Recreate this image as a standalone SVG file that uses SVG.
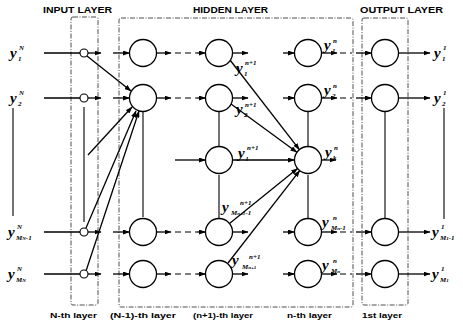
<svg xmlns="http://www.w3.org/2000/svg" width="463" height="325" viewBox="0 0 463 325">
<defs>
<marker id="ah" markerWidth="7" markerHeight="5" refX="6.5" refY="2.5" orient="auto" markerUnits="userSpaceOnUse">
<path d="M0,0 L7,2.5 L0,5 Z" fill="#000"/>
</marker>
<style>
.box{fill:none;stroke:#222;stroke-width:0.8;stroke-dasharray:5 1.5 1 1.5}
.n{fill:#fff;stroke:#000;stroke-width:1.3}
.ni{fill:#fff;stroke:#000;stroke-width:1.1}
.c{stroke:#000;stroke-width:1.3;fill:none}
.a{stroke:#000;stroke-width:1.3;fill:none;marker-end:url(#ah)}
.d{stroke:#000;stroke-width:1.2;fill:none;stroke-dasharray:6 4}
.v{stroke:#000;stroke-width:1.1;fill:none}
.h{font-family:"Liberation Sans",Arial,sans-serif;font-weight:bold;font-size:9px;fill:#000}
.b{font-family:"Liberation Sans",Arial,sans-serif;font-weight:bold;font-size:7px;fill:#000}
.y{font-family:"Liberation Serif","Times New Roman",serif;font-weight:bold;font-style:italic;font-size:15px;fill:#000}
.s{font-family:"Liberation Serif","Times New Roman",serif;font-weight:bold;font-style:italic;font-size:7px;fill:#000}
</style>
</defs>
<rect width="463" height="325" fill="#fff"/>

<g id="layer-boxes">
<rect class="box" x="71" y="17" width="27" height="288" rx="2"/>
<rect class="box" x="119" y="18" width="234" height="289" rx="2"/>
<rect class="box" x="362" y="18" width="46" height="287" rx="2"/>
</g>

<g id="headings">
<text class="h" x="43" y="13" textLength="69" lengthAdjust="spacingAndGlyphs">INPUT LAYER</text>
<text class="h" x="193" y="13" textLength="75" lengthAdjust="spacingAndGlyphs">HIDDEN LAYER</text>
<text class="h" x="360" y="13" textLength="83" lengthAdjust="spacingAndGlyphs">OUTPUT LAYER</text>
<text class="b" x="50" y="318" textLength="47" lengthAdjust="spacingAndGlyphs">N-th layer</text>
<text class="b" x="110" y="318" textLength="66" lengthAdjust="spacingAndGlyphs">(N-1)-th layer</text>
<text class="b" x="193" y="318" textLength="60" lengthAdjust="spacingAndGlyphs">(n+1)-th layer</text>
<text class="b" x="287" y="318" textLength="45" lengthAdjust="spacingAndGlyphs">n-th layer</text>
<text class="b" x="362" y="318" textLength="40" lengthAdjust="spacingAndGlyphs">1st layer</text>
</g>

<g id="connectors">
<g id="row-lines">
<path class="c" d="M44,53 H80 M44,98 H80 M44,232 H80 M44,274 H80"/>
<path class="a" d="M88,53 H101"/><path class="a" d="M88,98 H101"/><path class="a" d="M88,232 H101"/><path class="a" d="M88,274 H101"/>
<path class="a" d="M113,53 H129.5"/><path class="a" d="M113,98 H129.5"/><path class="a" d="M113,232 H129.5"/><path class="a" d="M113,274 H129.5"/>
<path class="a" d="M156.5,53 H171"/><path class="a" d="M156.5,98 H171"/><path class="a" d="M156.5,232 H171"/><path class="a" d="M156.5,274 H171"/>
<path class="d" d="M175,53 H197 M175,98 H197 M175,232 H197 M175,274 H197"/>
<path class="a" d="M197,53 H205.5"/><path class="a" d="M197,98 H205.5"/><path class="a" d="M197,232 H205.5"/><path class="a" d="M197,274 H205.5"/>
<path class="a" d="M232.5,53 H248"/><path class="a" d="M232.5,98 H248"/><path class="a" d="M232.5,232 H248"/><path class="a" d="M232.5,274 H248"/>
<path class="a" d="M283,53 H294.5"/><path class="a" d="M283,98 H294.5"/><path class="a" d="M283,232 H294.5"/><path class="a" d="M283,274 H294.5"/>
<path class="a" d="M321.5,53 H337"/><path class="a" d="M321.5,98 H337"/><path class="a" d="M321.5,232 H337"/><path class="a" d="M321.5,274 H337"/>
<path class="d" d="M340,53 H352 M340,98 H352 M340,232 H352 M340,274 H352"/>
<path class="a" d="M356,53 H371.5"/><path class="a" d="M356,98 H371.5"/><path class="a" d="M356,232 H371.5"/><path class="a" d="M356,274 H371.5"/>
<path class="a" d="M398.5,53 H430"/><path class="a" d="M398.5,98 H430"/><path class="a" d="M398.5,232 H430"/><path class="a" d="M398.5,274 H430"/>
</g>
<g id="mid-row">
<path class="a" d="M175,160 H205.5"/>
<path class="a" d="M232.5,160 H294.5"/>
<path class="a" d="M321.5,160 H336"/>
</g>
<g id="converge-input">
<path class="a" d="M87,56 L131,91"/>
<path class="a" d="M88,155 L132,107"/>
<path class="a" d="M86,228 L136,111"/>
<path class="a" d="M86,271 L139,111"/>
</g>
<g id="converge-hidden">
<path class="a" d="M230,60 L299.4,149.6"/>
<path class="a" d="M231,104 L296.9,152.3"/>
<path class="a" d="M229.5,223.5 L297.5,168.5"/>
<path class="a" d="M228,263 L299.7,170.6"/>
</g>
<g id="ellipsis-lines">
<path class="v" d="M13,108 V216"/>
<path class="v" d="M84,107 V222"/>
<path class="v" d="M143,112 V217"/>
<path class="v" d="M219,112 V146 M219,175 V218"/>
<path class="v" d="M308,112 V146 M308,175 V218"/>
<path class="v" d="M385,112 V218"/>
<path class="v" d="M444,108 V219"/>
</g>
</g>

<g id="input-nodes">
<circle class="ni" cx="84" cy="53" r="4"/>
<circle class="ni" cx="84" cy="98" r="4"/>
<circle class="ni" cx="84" cy="232" r="4"/>
<circle class="ni" cx="84" cy="274" r="4"/>
</g>
<g id="hidden-N1">
<circle class="n" cx="143" cy="53" r="13.5"/>
<circle class="n" cx="143" cy="98" r="13.5"/>
<circle class="n" cx="143" cy="232" r="13.5"/>
<circle class="n" cx="143" cy="274" r="13.5"/>
</g>
<g id="hidden-n1">
<circle class="n" cx="219" cy="53" r="13.5"/>
<circle class="n" cx="219" cy="98" r="13.5"/>
<circle class="n" cx="219" cy="160" r="13.5"/>
<circle class="n" cx="219" cy="232" r="13.5"/>
<circle class="n" cx="219" cy="274" r="13.5"/>
</g>
<g id="hidden-n">
<circle class="n" cx="308" cy="53" r="13.5"/>
<circle class="n" cx="308" cy="98" r="13.5"/>
<circle class="n" cx="308" cy="160" r="13.5"/>
<circle class="n" cx="308" cy="232" r="13.5"/>
<circle class="n" cx="308" cy="274" r="13.5"/>
</g>
<g id="output-nodes">
<circle class="n" cx="385" cy="53" r="13.5"/>
<circle class="n" cx="385" cy="98" r="13.5"/>
<circle class="n" cx="385" cy="232" r="13.5"/>
<circle class="n" cx="385" cy="274" r="13.5"/>
</g>

<g id="input-labels">
<text class="y" x="10" y="58">y</text><text class="s" x="19" y="50">N</text><text class="s" x="18" y="61">1</text>
<text class="y" x="10" y="103">y</text><text class="s" x="19" y="95">N</text><text class="s" x="18" y="106">2</text>
<text class="y" x="8" y="237">y</text><text class="s" x="17" y="229">N</text><text class="s" x="16" y="240">M<tspan font-size="5">N</tspan>-1</text>
<text class="y" x="8" y="279">y</text><text class="s" x="17" y="271">N</text><text class="s" x="16" y="282">M<tspan font-size="5">N</tspan></text>
</g>
<g id="n1-labels">
<text class="y" x="236" y="73">y</text><text class="s" x="245" y="65">n+1</text><text class="s" x="244" y="76">1</text>
<text class="y" x="236" y="114">y</text><text class="s" x="245" y="107">n+1</text><text class="s" x="244" y="117">2</text>
<text class="y" x="238" y="158">y</text><text class="s" x="247" y="150">n+1</text><text class="s" x="246" y="161">l</text>
<text class="y" x="222" y="212">y</text><text class="s" x="240" y="205">n+1</text><text class="s" x="231" y="215">M<tspan font-size="5">n+1</tspan>-1</text>
<text class="y" x="232" y="265">y</text><text class="s" x="249" y="259">n+1</text><text class="s" x="242" y="269">M<tspan font-size="5">n+1</tspan></text>
</g>
<g id="n-labels">
<text class="y" x="324" y="50">y</text><text class="s" x="333" y="43">n</text><text class="s" x="332" y="53">1</text>
<text class="y" x="324" y="95">y</text><text class="s" x="333" y="88">n</text><text class="s" x="332" y="98">2</text>
<text class="y" x="325" y="157">y</text><text class="s" x="334" y="150">n</text><text class="s" x="333" y="160">k</text>
<text class="y" x="322" y="227">y</text><text class="s" x="333" y="220">n</text><text class="s" x="331" y="230">M<tspan font-size="5">n</tspan>-1</text>
<text class="y" x="322" y="270">y</text><text class="s" x="333" y="263">n</text><text class="s" x="331" y="273">M<tspan font-size="5">n</tspan></text>
</g>
<g id="output-labels">
<text class="y" x="434" y="58">y</text><text class="s" x="443" y="50">1</text><text class="s" x="442" y="61">1</text>
<text class="y" x="434" y="103">y</text><text class="s" x="443" y="95">1</text><text class="s" x="442" y="106">2</text>
<text class="y" x="432" y="237">y</text><text class="s" x="441" y="229">1</text><text class="s" x="440" y="240">M<tspan font-size="5">1</tspan>-1</text>
<text class="y" x="432" y="279">y</text><text class="s" x="441" y="271">1</text><text class="s" x="440" y="282">M<tspan font-size="5">1</tspan></text>
</g>
</svg>
